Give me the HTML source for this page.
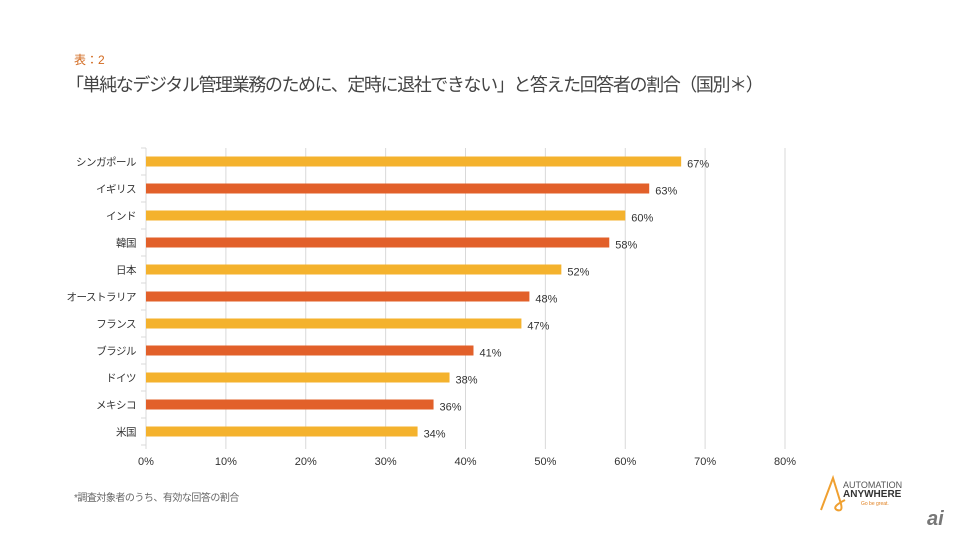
<!DOCTYPE html>
<html><head><meta charset="utf-8"><style>
body{margin:0;width:960px;height:540px;background:#fff;overflow:hidden;font-family:"Liberation Sans","Noto Sans CJK JP",sans-serif;position:relative}
.t{position:absolute;white-space:nowrap}
</style></head><body>
<div class="t" style="left:74px;top:51px;font-size:12px;color:#d2691e">表：2</div>
<div class="t" style="left:66px;top:71px;font-size:18px;letter-spacing:-1.4px;color:#444">「単純なデジタル管理業務のために、定時に退社できない」と答えた回答者の割合（国別＊）</div>
<svg id="chart" width="960" height="540" style="position:absolute;left:0;top:0"></svg>
<div class="t" style="left:74px;top:489px;font-size:10px;letter-spacing:-0.5px;color:#666">*調査対象者のうち、有効な回答の割合</div>
<div style="position:absolute;left:815px;top:474px;width:110px;height:40px">
<svg width="40" height="40" style="position:absolute;left:0;top:0"><path d="M6 36 L18 4 L26 30 Q28 38 22 36 Q16 33 30 26" fill="none" stroke="#f0a030" stroke-width="2"/></svg>
<div class="t" style="left:28px;top:6px;font-size:9px;color:#555">AUTOMATION</div>
<div class="t" style="left:28px;top:15px;font-size:10px;font-weight:bold;color:#333">ANYWHERE</div>
<div class="t" style="left:46px;top:27px;font-size:5px;color:#e08020">Go be great.</div>
</div>
<div class="t" style="left:927px;top:508px;font-size:20px;font-style:italic;font-weight:bold;color:#777">ai</div>
<script>
const categories=["シンガポール","イギリス","インド","韓国","日本","オーストラリア","フランス","ブラジル","ドイツ","メキシコ","米国"];
const values=[67,63,60,58,52,48,47,41,38,36,34];
const ticks=[0,10,20,30,40,50,60,70,80];
const svg=document.getElementById('chart');
const NS='http://www.w3.org/2000/svg';
const x0=146,x1=785,xmax=80,top0=148,rowH=27;
const X=v=>x0+(x1-x0)*v/xmax;
const Y=i=>top0+rowH*(i+0.5);
function el(t,a){const e=document.createElementNS(NS,t);for(const k in a)e.setAttribute(k,a[k]);svg.appendChild(e);return e;}
const bottom=top0+rowH*categories.length;
ticks.forEach(t=>{
 const g=el('line',{x1:X(t),x2:X(t),y1:top0,y2:bottom+4,stroke:'#d9d9d9','stroke-width':1});
 
 
 const l=el('text',{x:X(t),y:bottom+20,'text-anchor':'middle','font-size':11,fill:'#333'});
 l.textContent=t+'%';
 
 
});
for(let i=0;i<=categories.length;i++){
 const tk=el('line',{x1:x0-5,x2:x0,y1:top0+rowH*i,y2:top0+rowH*i,stroke:'#d9d9d9'});
 
 
}
categories.forEach((c,i)=>{
 const y=Y(i);
 const b=el('rect',{x:x0,y:y-5,width:X(values[i])-x0,height:10,fill:i%2?'#e2602a':'#f4b22d'});
 
 
 const lb=el('text',{x:x0-10,y:y+4,'text-anchor':'end','font-size':10.5,'letter-spacing':'-0.5',fill:'#333'});
 lb.textContent=c;
 
 
 const v=el('text',{x:X(values[i])+6,y:y+6,'font-size':11,fill:'#333'});
 v.textContent=values[i]+'%';
 
 
});
</script>
</body></html>
